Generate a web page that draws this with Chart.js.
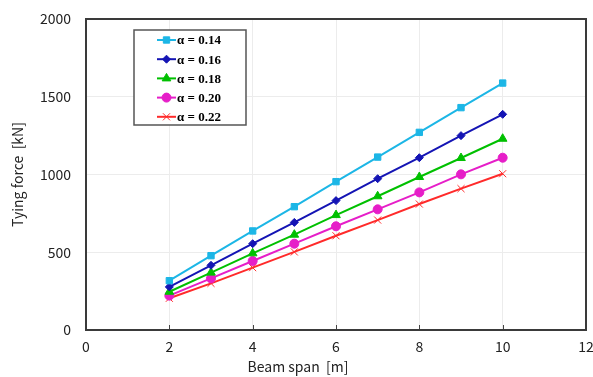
<!DOCTYPE html>
<html>
<head>
<meta charset="utf-8">
<script src="https://cdn.jsdelivr.net/npm/chart.js@4"></script>
<style>
  html, body { margin: 0; padding: 0; background: #fff; }
  #wrap { width: 593px; height: 377px; position: relative; }
</style>
</head>
<body>
<div id="wrap"><canvas id="tyingChart"></canvas></div>
<script>
const spans = [2, 3, 4, 5, 6, 7, 8, 9, 10];
const alpha014 = [317, 478, 637, 793, 954, 1112, 1271, 1430, 1588];
const alpha016 = [277, 416, 555, 692, 832, 973, 1108, 1250, 1387];
const alpha018 = [246, 369, 493, 613, 739, 860, 984, 1106, 1230];
const alpha020 = [221, 332, 444, 555, 667, 776, 885, 1001, 1108];
const alpha022 = [204, 300, 401, 502, 606, 707, 810, 909, 1005];
const seriesLabels = ["α = 0.14", "α = 0.16", "α = 0.18", "α = 0.20", "α = 0.22"];
const xTicks = [0, 2, 4, 6, 8, 10, 12];
const yTicks = [0, 500, 1000, 1500, 2000];
const xTitle = "Beam span  [m]";

const tickFont = { family: "'Noto Sans CJK JP', 'DejaVu Sans', sans-serif", size: 14 };

function pts(vals) {
  return spans.map((x, i) => ({ x: x, y: vals[i] }));
}

function makeSet(label, vals, color, style, radius) {
  return {
    label: label,
    data: pts(vals),
    borderColor: color,
    backgroundColor: color,
    pointStyle: style,
    pointRadius: radius,
    pointBorderWidth: 1,
    borderWidth: 2,
    tension: 0
  };
}

// frame, inward ticks, x title and the legend box inside the plot
const framePlugin = {
  id: "frame",
  afterDraw(chart) {
    const { ctx, chartArea: a } = chart;
    const xs = chart.scales.x;
    ctx.save();

    // small inward tick marks on the x axis
    ctx.strokeStyle = "#444";
    ctx.lineWidth = 1;
    xTicks.forEach(v => {
      const px = Math.round(xs.getPixelForValue(v)) + 0.5;
      ctx.beginPath();
      ctx.moveTo(px, a.bottom);
      ctx.lineTo(px, a.bottom - 5);
      ctx.stroke();
    });

    ctx.strokeStyle = "#3a3a3a";
    ctx.lineWidth = 2;
    ctx.strokeRect(a.left, a.top, a.right - a.left, a.bottom - a.top);

    // x title (sits left of centre in the original)
    ctx.fillStyle = "#222";
    ctx.font = "14px " + tickFont.family;
    ctx.textAlign = "center";
    ctx.textBaseline = "middle";
    ctx.fillText(xTitle, 298, 367);

    // legend
    const bx = 134, by = 30, bw = 112, bh = 95;
    ctx.fillStyle = "#fff";
    ctx.fillRect(bx, by, bw, bh);
    ctx.strokeStyle = "#555";
    ctx.lineWidth = 1.5;
    ctx.strokeRect(bx, by, bw, bh);
    ctx.font = "bold 13px 'Liberation Serif', 'Times New Roman', serif";
    ctx.textAlign = "left";
    chart.data.datasets.forEach((ds, i) => {
      const y = 40 + i * 19.2;
      ctx.strokeStyle = ds.borderColor;
      ctx.fillStyle = ds.borderColor;
      ctx.lineWidth = 2;
      ctx.beginPath();
      ctx.moveTo(157, y);
      ctx.lineTo(176, y);
      ctx.stroke();
      ctx.lineWidth = 1;
      Chart.helpers.drawPoint(ctx, {
        pointStyle: ds.pointStyle,
        radius: ds.pointRadius,
        rotation: 0,
        borderWidth: 1
      }, 166.5, y);
      ctx.fillStyle = "#000";
      ctx.fillText(ds.label, 177, y + 1);
    });
    ctx.restore();
  }
};

const ctx = document.getElementById("tyingChart").getContext("2d");

new Chart(ctx, {
  type: "line",
  data: {
    datasets: [
      makeSet(seriesLabels[0], alpha014, "#1cb6e6", "rect", 4.5),
      makeSet(seriesLabels[1], alpha016, "#1414b4", "rectRot", 4),
      makeSet(seriesLabels[2], alpha018, "#00c000", "triangle", 5),
      makeSet(seriesLabels[3], alpha020, "#e61ec8", "circle", 4.5),
      makeSet(seriesLabels[4], alpha022, "#ff2a2a", "crossRot", 5)
    ]
  },
  options: {
    responsive: true,
    maintainAspectRatio: false,
    animation: false,
    layout: { padding: { top: 19, right: 7, left: 0, bottom: 0 } },
    plugins: {
      legend: { display: false },
      tooltip: { enabled: false }
    },
    scales: {
      x: {
        type: "linear",
        min: 0,
        max: 12,
        afterBuildTicks: axis => { axis.ticks = xTicks.map(v => ({ value: v })); },
        ticks: { color: "#222", font: tickFont, padding: 8, maxRotation: 0 },
        grid: { color: "#ececec", drawTicks: false },
        border: { display: false },
        title: { display: false },
        afterFit: axis => {
          axis.height = 47;
          axis.paddingLeft = 0;
          axis.paddingRight = 0;
        }
      },
      y: {
        min: 0,
        max: 2000,
        afterBuildTicks: axis => { axis.ticks = yTicks.map(v => ({ value: v })); },
        ticks: { color: "#222", font: tickFont, padding: 15, callback: v => String(v) },
        grid: { color: "#ececec", drawTicks: false },
        border: { display: false },
        title: {
          display: true,
          text: "Tying force  [kN]",
          color: "#222",
          font: tickFont,
          padding: { top: 9, bottom: 0 }
        },
        afterFit: axis => {
          axis.width = 86;
          axis.paddingTop = 0;
          axis.paddingBottom = 0;
        }
      }
    }
  },
  plugins: [framePlugin]
});
</script>
</body>
</html>
